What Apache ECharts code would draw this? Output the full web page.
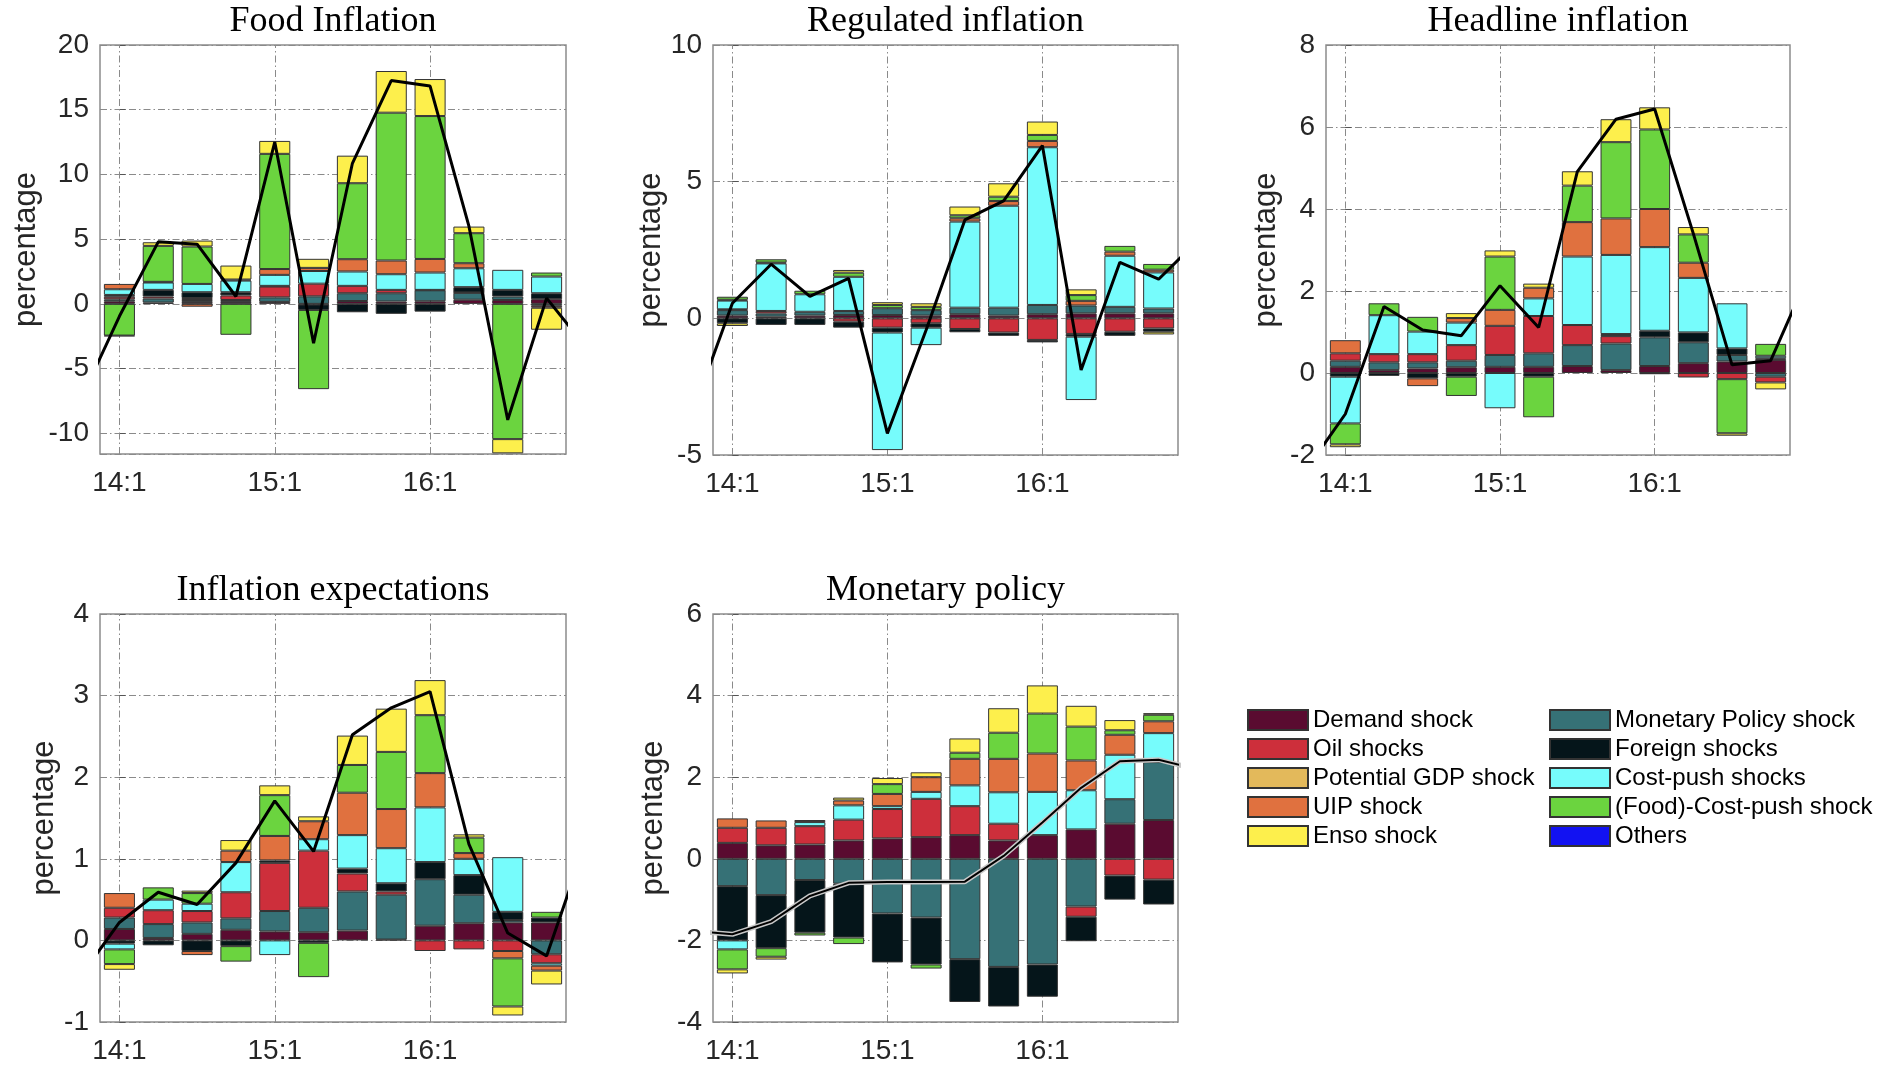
<!DOCTYPE html>
<html>
<head>
<meta charset="utf-8">
<script src="https://cdn.jsdelivr.net/npm/echarts@6/dist/echarts.min.js"></script>
<style>
html,body{margin:0;padding:0;background:#fff;}
#chart{width:1893px;height:1065px;}
</style>
</head>
<body>
<div id="chart"></div>
<script>
// ---------------- DATA ----------------
const categories = ['14:1','14:2','14:3','14:4','15:1','15:2','15:3','15:4','16:1','16:2','16:3','16:4'];
// line is drawn from one quarter before to one quarter after the bars (clipped by the frame)
const lineQuarters = ['13:4','14:1','14:2','14:3','14:4','15:1','15:2','15:3','15:4','16:1','16:2','16:3','16:4','17:1'];

const shockNames = ['Demand shock','Monetary Policy shock','Oil shocks','Foreign shocks','Cost-push shocks',
                    'Potential GDP shock','UIP shock','(Food)-Cost-push shock','Enso shock','Others'];
const legendCol1 = ['Demand shock','Oil shocks','Potential GDP shock','UIP shock','Enso shock'];
const legendCol2 = ['Monetary Policy shock','Foreign shocks','Cost-push shocks','(Food)-Cost-push shock','Others'];

const panelTitles = ['Food Inflation','Regulated inflation','Headline inflation','Inflation expectations','Monetary policy'];
const yMin = [-11.6, -5, -2, -1, -4];
const yMax = [20, 10, 8, 4, 6];
const yStep = [5, 5, 2, 1, 2];

// Panel 1: Food Inflation
const food_demand  = [0.2, 0.1, 0.15, 0.15, 0.15, -0.05, 0.22, 0.18, 0.2, 0.32, 0.3, 0.36];
const food_mp      = [0.15, 0.31, 0.15, 0.15, 0.35, 0.58, 0.6, 0.64, 0.85, 0.53, 0.27, -0.15];
const food_oil     = [0.2, 0.16, 0.15, 0.35, 0.84, 0.98, 0.57, 0.26, 0.03, 0.03, 0, -0.15];
const food_foreign = [0.14, 0.51, 0.45, 0.25, 0.05, -0.42, -0.65, -0.77, -0.6, 0.41, 0.51, 0.46];
const food_cost    = [0.44, 0.57, 0.64, 0.9, 0.85, 0.98, 1.11, 1.21, 1.34, 1.46, 1.55, 1.29];
const food_potgdp  = [0, 0, 0, 0, 0, 0, 0, 0, 0, 0, 0, 0];
const food_uip     = [0.41, 0.05, -0.22, 0.08, 0.45, 0.24, 0.95, 1.06, 1.05, 0.39, 0, 0];
const food_food    = [-2.45, 2.78, 2.89, -2.39, 8.9, -6.12, 5.87, 11.42, 11.04, 2.32, -10.45, 0.31];
const food_enso    = [-0.05, 0.28, 0.46, 1.08, 1.0, 0.7, 2.13, 3.22, 2.86, 0.51, -1.1, -1.7];
const food_others  = [0, 0, 0, 0, 0, 0, 0, 0, 0, 0, 0, 0];
const food_line    = [-7.44, -0.96, 4.79, 4.61, 0.57, 12.5, -3.04, 10.86, 17.25, 16.83, 6.0, -8.96, 0.44, -3.3];

// Panel 2: Regulated inflation
const reg_demand  = [0.1, 0.06, 0.1, 0.12, 0.12, 0.1, 0.15, 0.1, 0.15, 0.18, 0.18, 0.18];
const reg_mp      = [0.2, 0.12, 0.14, 0.15, 0.25, 0.2, 0.24, 0.29, 0.34, 0.29, 0.24, 0.18];
const reg_oil     = [0.03, 0.09, 0, -0.12, -0.34, -0.18, -0.39, -0.52, -0.79, -0.57, -0.49, -0.37];
const reg_foreign = [-0.18, -0.24, -0.24, -0.22, -0.18, -0.16, -0.12, -0.12, -0.09, -0.1, -0.15, -0.12];
const reg_cost    = [0.32, 1.74, 0.64, 1.25, -4.3, -0.64, 3.15, 3.73, 5.77, -2.32, 1.87, 1.32];
const reg_potgdp  = [0, 0, 0, 0, 0, 0, 0, 0, 0, 0, 0, 0];
const reg_uip     = [0.03, 0.03, 0, 0, 0, 0, 0.12, 0.17, 0.23, 0.17, 0.15, 0.1];
const reg_food    = [0.11, 0.12, 0.13, 0.15, 0.12, 0.12, 0.11, 0.16, 0.22, 0.21, 0.21, 0.21];
const reg_enso    = [-0.1, 0, 0, 0.1, 0.1, 0.13, 0.32, 0.49, 0.49, 0.21, 0, -0.1];
const reg_others  = [0, 0, 0, 0, 0, 0, 0, 0, 0, 0, 0, 0];
const reg_line    = [-3.35, 0.55, 1.98, 0.8, 1.46, -4.21, -0.43, 3.6, 4.3, 6.32, -1.89, 2.05, 1.43, 2.83];

// Panel 3: Headline inflation
const head_demand  = [0.15, 0.07, 0.11, 0.14, 0.15, 0.15, 0.17, 0.07, 0.17, 0.24, 0.28, 0.32];
const head_mp      = [0.15, 0.19, 0.15, 0.16, 0.29, 0.33, 0.51, 0.65, 0.7, 0.51, 0.16, -0.09];
const head_oil     = [0.18, 0.2, 0.2, 0.38, 0.71, 0.91, 0.49, 0.18, -0.03, -0.11, -0.15, -0.14];
const head_foreign = [-0.09, -0.07, -0.13, -0.09, 0, -0.09, 0, 0.05, 0.16, 0.24, 0.16, 0.04];
const head_cost    = [-1.14, 0.95, 0.55, 0.55, -0.86, 0.43, 1.67, 1.93, 2.04, 1.33, 1.1, 0.06];
const head_potgdp  = [0, 0, 0, 0, 0, 0, 0, 0, 0, 0, 0, 0];
const head_uip     = [0.32, 0, -0.19, 0.11, 0.39, 0.26, 0.84, 0.89, 0.93, 0.37, 0, 0];
const head_food    = [-0.51, 0.29, 0.36, -0.47, 1.3, -0.99, 0.89, 1.86, 1.94, 0.69, -1.32, 0.29];
const head_enso    = [-0.07, 0, 0, 0.12, 0.15, 0.1, 0.35, 0.56, 0.54, 0.18, -0.06, -0.17];
const head_others  = [0, 0, 0, 0, 0, 0, 0, 0, 0, 0, 0, 0];
const head_line    = [-2.34, -1.0, 1.62, 1.05, 0.91, 2.13, 1.11, 4.91, 6.19, 6.44, 3.4, 0.2, 0.3, 2.44];

// Panel 4: Inflation expectations
const exp_demand  = [0.14, 0.03, 0.08, 0.13, 0.11, 0.1, 0.12, 0.01, 0.18, 0.21, 0.22, 0.22];
const exp_mp      = [0.14, 0.17, 0.14, 0.14, 0.25, 0.3, 0.48, 0.55, 0.57, 0.35, 0.03, -0.17];
const exp_oil     = [0.12, 0.17, 0.14, 0.32, 0.59, 0.7, 0.22, 0.04, -0.13, -0.11, -0.13, -0.11];
const exp_foreign = [-0.04, -0.06, -0.13, -0.07, 0.03, -0.03, 0.06, 0.1, 0.21, 0.24, 0.1, 0.06];
const exp_cost    = [-0.07, 0.13, 0.09, 0.37, -0.18, 0.14, 0.41, 0.43, 0.67, 0.2, 0.67, -0.03];
const exp_potgdp  = [0, 0, 0, 0, 0, 0, 0, 0, 0, 0, 0, 0];
const exp_uip     = [0.18, 0, -0.05, 0.14, 0.3, 0.22, 0.52, 0.48, 0.42, 0.07, -0.09, -0.06];
const exp_food    = [-0.18, 0.15, 0.13, -0.19, 0.5, -0.42, 0.34, 0.7, 0.71, 0.19, -0.59, 0.07];
const exp_enso    = [-0.07, 0, 0.03, 0.13, 0.12, 0.06, 0.36, 0.53, 0.43, 0.04, -0.11, -0.17];
const exp_others  = [0, 0, 0, 0, 0, 0, 0, 0, 0, 0, 0, 0];
const exp_line    = [-0.44, 0.22, 0.59, 0.44, 0.95, 1.71, 1.09, 2.52, 2.85, 3.05, 1.18, 0.09, -0.19, 1.19];

// Panel 5: Monetary policy
const mon_demand  = [0.39, 0.33, 0.35, 0.45, 0.5, 0.53, 0.58, 0.45, 0.58, 0.72, 0.86, 0.95];
const mon_mp      = [-0.67, -0.89, -0.52, -0.61, -1.34, -1.44, -2.46, -2.65, -2.59, -1.17, 0.6, 1.42];
const mon_oil     = [0.37, 0.43, 0.45, 0.51, 0.72, 0.94, 0.71, 0.41, 0, -0.25, -0.41, -0.51];
const mon_foreign = [-1.33, -1.3, -1.29, -1.32, -1.2, -1.15, -1.05, -0.97, -0.79, -0.6, -0.59, -0.61];
const mon_cost    = [-0.22, 0, 0.1, 0.35, 0.07, 0.17, 0.51, 0.77, 1.06, 0.96, 1.09, 0.71];
const mon_potgdp  = [0, 0, 0, 0, 0, 0, 0, 0, 0, 0, 0, 0];
const mon_uip     = [0.23, 0.18, 0.05, 0.12, 0.3, 0.36, 0.65, 0.82, 0.94, 0.73, 0.49, 0.29];
const mon_food    = [-0.49, -0.21, -0.07, -0.16, 0.24, -0.1, 0.15, 0.64, 0.98, 0.83, 0.11, 0.16];
const mon_enso    = [-0.1, -0.07, 0, 0.07, 0.15, 0.12, 0.35, 0.6, 0.69, 0.51, 0.25, 0.04];
const mon_others  = [0, 0, 0, 0, 0, 0, 0, 0, 0, 0, 0, 0];
const mon_line    = [-1.77, -1.85, -1.54, -0.91, -0.59, -0.57, -0.57, -0.56, 0.07, 0.89, 1.74, 2.39, 2.43, 2.19];

// ---------------- STYLE / LAYOUT ----------------
const shockColors = {
  'Demand shock':'#5a0b30', 'Monetary Policy shock':'#367176', 'Oil shocks':'#cd2f3b',
  'Foreign shocks':'#05151a', 'Cost-push shocks':'#76fcfc', 'Potential GDP shock':'#e3b95b',
  'UIP shock':'#e0713f', '(Food)-Cost-push shock':'#6bd43f', 'Enso shock':'#fdef4c', 'Others':'#1212f2'
};
const panelBars = [
  [food_demand, food_mp, food_oil, food_foreign, food_cost, food_potgdp, food_uip, food_food, food_enso, food_others],
  [reg_demand, reg_mp, reg_oil, reg_foreign, reg_cost, reg_potgdp, reg_uip, reg_food, reg_enso, reg_others],
  [head_demand, head_mp, head_oil, head_foreign, head_cost, head_potgdp, head_uip, head_food, head_enso, head_others],
  [exp_demand, exp_mp, exp_oil, exp_foreign, exp_cost, exp_potgdp, exp_uip, exp_food, exp_enso, exp_others],
  [mon_demand, mon_mp, mon_oil, mon_foreign, mon_cost, mon_potgdp, mon_uip, mon_food, mon_enso, mon_others]
];
const panelLines = [food_line, reg_line, head_line, exp_line, mon_line];

const grids = [
  {left:100, top:45, width:466, height:409},
  {left:713, top:45, width:465, height:410},
  {left:1326, top:45, width:464, height:410},
  {left:100, top:614, width:466, height:409},
  {left:713, top:614, width:465, height:409}
];
const nameGaps = [58, 44, 44, 38, 44];
const SANS = 'Liberation Sans, Arial, sans-serif';
const SERIF = 'Liberation Serif, Times New Roman, serif';
const gridDash = [7, 3, 1.5, 3];
const gridColor = '#8a8a8a';

const legendCommon = {
  orient:'vertical', top:708, itemWidth:60, itemHeight:20, itemGap:5,
  icon:'rect', selectedMode:false, padding:0,
  textStyle:{fontFamily:SANS, fontSize:24, color:'#000', lineHeight:22}
};

const option = {
  backgroundColor:'#ffffff',
  animation:false,
  grid: grids.map(g => Object.assign({show:true, borderColor:'#8c8c8c', borderWidth:1.5, backgroundColor:'#fff', containLabel:false}, g)),
  xAxis: [],
  yAxis: [],
  series: [],
  legend: [
    Object.assign({data: legendCol1, left:1247}, legendCommon),
    Object.assign({data: legendCol2, left:1549}, legendCommon)
  ],
  graphic: []
};

grids.forEach((g, k) => {
  // category axis for bars
  option.xAxis.push({
    type:'category', gridIndex:k, data:categories, boundaryGap:true,
    axisLine:{show:false},
    axisTick:{show:true, inside:true, alignWithLabel:true, interval:3, length:6, lineStyle:{color:'#555'}},
    axisLabel:{interval:3, fontFamily:SANS, fontSize:28, color:'#262626', margin:15},
    splitLine:{show:false}
  });
  // hidden value axis for the line (same extent as the bar bands)
  option.xAxis.push({
    type:'value', gridIndex:k, min:-0.5, max:11.5, show:false
  });
  const y = {
    type:'value', gridIndex:k, min:yMin[k], max:yMax[k],
    name:'percentage', nameLocation:'middle', nameGap:nameGaps[k],
    nameTextStyle:{fontFamily:SANS, fontSize:31, color:'#262626'},
    axisLine:{show:false},
    axisTick:{show:true, inside:true, length:6, lineStyle:{color:'#555'}},
    axisLabel:{fontFamily:SANS, fontSize:28, color:'#262626', margin:11, showMinLabel: (k !== 0)},
    splitLine:{show:true, lineStyle:{type:gridDash, color:gridColor, width:1}}
  };
  if (yMin[k] % yStep[k] === 0) { y.interval = yStep[k]; } else { y.splitNumber = 6; }
  option.yAxis.push(y);

  // vertical dash-dot gridlines at the labelled quarters, under the bars
  option.series.push({
    type:'line', xAxisIndex:2*k+1, yAxisIndex:k, z:1, silent:true,
    data:[[-1, 0]], symbol:'none', lineStyle:{width:0, opacity:0},
    markLine:{silent:true, symbol:'none', z:1, animation:false,
      label:{show:false},
      lineStyle:{type:gridDash, color:gridColor, width:1},
      data:[0, 4, 8].map(i => ({xAxis:i}))}
  });

  // stacked bars
  panelBars[k].forEach((vals, s) => {
    const nm = shockNames[s];
    option.series.push({
      type:'bar', name:nm, xAxisIndex:2*k, yAxisIndex:k,
      stack:'p'+k, stackStrategy:'samesign', barWidth:'80%', z:2,
      itemStyle:{color:shockColors[nm], borderColor:'#333', borderWidth:1},
      emphasis:{disabled:true},
      data: vals.map(v => (v === 0 ? null : v))
    });
  });

  // line
  const lineData = panelLines[k].map((v, i) => [i - 1, v]);
  if (k === 4) {
    option.series.push({
      type:'line', xAxisIndex:2*k+1, yAxisIndex:k, z:3, silent:true,
      data: lineData, symbol:'none', clip:true,
      lineStyle:{color:'#c8c8c8', width:5}
    });
    option.series.push({
      type:'line', xAxisIndex:2*k+1, yAxisIndex:k, z:4, silent:true,
      data: lineData, symbol:'none', clip:true,
      lineStyle:{color:'#000', width:2}
    });
  } else {
    option.series.push({
      type:'line', xAxisIndex:2*k+1, yAxisIndex:k, z:4, silent:true,
      data: lineData, symbol:'none', clip:true,
      lineStyle:{color:'#000', width:3}
    });
  }

  // panel title
  option.graphic.push({
    type:'text', x: g.left + g.width/2, y: g.top - 23,
    style:{text: panelTitles[k], font: '36px ' + SERIF, fill:'#000',
           textAlign:'center', textVerticalAlign:'middle', align:'center', verticalAlign:'middle'}
  });
});

const chart = echarts.init(document.getElementById('chart'), null, {renderer:'canvas'});
chart.setOption(option);
</script>
</body>
</html>
